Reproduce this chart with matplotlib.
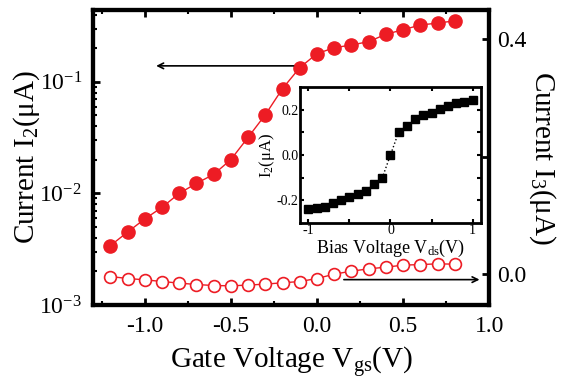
import numpy as np
import matplotlib
matplotlib.use("Agg")
import matplotlib.pyplot as plt
from matplotlib.ticker import LogLocator, NullFormatter

plt.rcParams['font.family'] = ['Liberation Serif', 'DejaVu Serif']
plt.rcParams['mathtext.fontset'] = 'custom'
plt.rcParams['mathtext.rm'] = 'Liberation Serif'
plt.rcParams['mathtext.it'] = 'Liberation Serif:italic'
plt.rcParams['axes.unicode_minus'] = False

# main data: gate voltage sweep
vgs = [-1.2, -1.1, -1.0, -0.9, -0.8, -0.7, -0.6, -0.5, -0.4, -0.3, -0.2,
       -0.1, 0.0, 0.1, 0.2, 0.3, 0.4, 0.5, 0.6, 0.7, 0.8]
i2 = [0.0034, 0.0045, 0.0059, 0.0075, 0.0100, 0.0123, 0.0148, 0.0201,
      0.0318, 0.0507, 0.087, 0.134, 0.179, 0.202, 0.214, 0.229, 0.267,
      0.293, 0.323, 0.336, 0.352]
i3 = [-0.0037, -0.0071, -0.0093, -0.0122, -0.0149, -0.0173, -0.0190,
      -0.0195, -0.0183, -0.0166, -0.0144, -0.0122, -0.0071, 0.0003,
      0.0054, 0.0093, 0.0122, 0.0156, 0.0166, 0.0178, 0.0173]

# inset data: bias voltage sweep
vds = [-1.0, -0.9, -0.8, -0.7, -0.6, -0.5, -0.4, -0.3, -0.2, -0.1, 0.0,
       0.1, 0.2, 0.3, 0.4, 0.5, 0.6, 0.7, 0.8, 0.9, 1.0]
i2_bias = [-0.240, -0.233, -0.227, -0.213, -0.200, -0.184, -0.173, -0.157,
           -0.129, -0.101, 0.0, 0.101, 0.129, 0.159, 0.175, 0.185, 0.203,
           0.215, 0.228, 0.234, 0.241]

red = '#ED1C24'

fig = plt.figure(figsize=(5.61, 3.86), dpi=100)
ax = fig.add_axes([0.166, 0.210, 0.706, 0.764])
ax2 = ax.twinx()

ax.plot(vgs, i2, '-o', color=red, lw=1.0, ms=9.5, mfc=red, mec=red)
ax.set_yscale('log')
ax.set_ylim(1e-3, 0.44)
ax.set_xlim(-1.3, 1.0)
ax.set_xticks([-1.0, -0.5, 0.0, 0.5, 1.0])
ax.set_xticks([-1.25, -0.75, -0.25, 0.25, 0.75], minor=True)
ax.set_xticklabels(['-1.0', '-0.5', '0.0', '0.5', '1.0'])
ax.yaxis.set_major_locator(LogLocator(base=10, numticks=10))
ax.yaxis.set_minor_locator(LogLocator(base=10, subs=np.arange(2, 10), numticks=20))
ax.yaxis.set_minor_formatter(NullFormatter())

ax2.plot(vgs, i3, '-o', color=red, lw=1.0, ms=8.5, mfc='white', mec=red, mew=1.2)
ax2.set_ylim(-0.052, 0.449)
ax2.set_yticks([0.0, 0.4])
ax2.set_yticks([0.2], minor=True)
ax2.set_yticklabels(['0.0', '0.4'])

for a in (ax, ax2):
    for s in a.spines.values():
        s.set_linewidth(3)
ax.tick_params(which='both', direction='in', top=True, labelsize=17, pad=8)
ax.tick_params(which='major', length=5, width=2)
ax.tick_params(which='minor', length=3, width=1.5)
ax2.tick_params(which='both', direction='in', labelsize=17, pad=6)
ax2.tick_params(which='major', length=5, width=2)
ax2.tick_params(which='minor', length=5, width=2)

ax.set_xlabel('Gate Voltage V$_{\\rm gs}$(V)', fontsize=21, labelpad=6)
ax.set_ylabel('Current I$_{2}$(μA)', fontsize=21, labelpad=-2)
ax2.set_ylabel('Current I$_{3}$(μA)', fontsize=21, rotation=270, labelpad=22)

# arrows pointing to the relevant axis
ax.annotate('', xy=(-0.95, 0.139), xytext=(-0.12, 0.139),
            arrowprops=dict(arrowstyle='->', color='black', lw=1.2))
ax2.annotate('', xy=(0.96, -0.009), xytext=(0.14, -0.009),
             arrowprops=dict(arrowstyle='->', color='black', lw=1.2))

# inset
ins = fig.add_axes([0.535, 0.422, 0.322, 0.353])
ins.plot(vds, i2_bias, ':s', color='black', lw=1.0, ms=5.5)
ins.set_xlim(-1.1, 1.1)
ins.set_ylim(-0.3, 0.3)
ins.set_xticks([-1, 0, 1])
ins.set_xticks([-0.5, 0.5], minor=True)
ins.set_yticks([-0.2, 0.0, 0.2])
ins.set_yticks([-0.1, 0.1], minor=True)
ins.set_yticklabels(['-0.2', '0.0', '0.2'])
for s in ins.spines.values():
    s.set_linewidth(2)
ins.tick_params(which='both', direction='in', top=True, right=True,
                labelsize=10, pad=1)
ins.tick_params(which='major', length=3, width=1.5)
ins.tick_params(which='minor', length=3, width=1.5)
ins.set_xlabel('Bias Voltage V$_{\\rm ds}$(V)', fontsize=13, labelpad=0)
ins.set_ylabel('I$_{2}$(μA)', fontsize=12, labelpad=0)

fig.savefig('out.png', dpi=100)
